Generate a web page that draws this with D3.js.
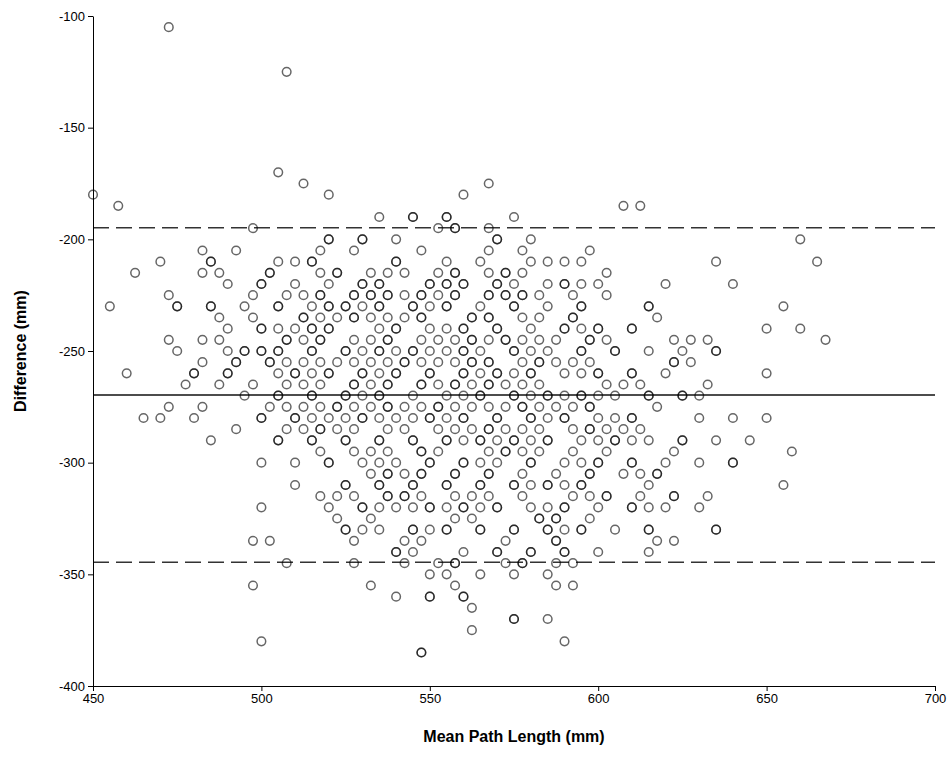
<!DOCTYPE html>
<html>
<head>
<meta charset="utf-8">
<script src="https://cdn.jsdelivr.net/npm/d3@7"></script>
<style>
  body { margin: 0; background: #fff; }
  text { font-family: Arial, "Liberation Sans", sans-serif; }
</style>
</head>
<body>
<svg id="chart" width="950" height="761"></svg>
<script>
// one row per difference level; repeated means are overlapping (darker) points
const rowDiff = [-105, -125, -170, -175, -180, -185, -190, -195, -200, -205, -210, -215, -220, -225,
  -230, -235, -240, -245, -250, -255, -260, -265, -270, -275, -280, -285, -290, -295, -300, -305,
  -310, -315, -320, -325, -330, -335, -340, -345, -350, -355, -360, -365, -370, -375, -380, -385];

const rowMeans = [
  [472.5],
  [507.5],
  [505],
  [512.5, 567.5],
  [450, 520, 560],
  [457.5, 607.5, 612.5],
  [535, 545, 545, 555, 555, 575],
  [497.5, 552.5, 557.5, 557.5, 567.5],
  [520, 520, 530, 530, 540, 570, 570, 580, 660],
  [482.5, 492.5, 517.5, 527.5, 547.5, 567.5, 577.5, 597.5],
  [470, 485, 485, 505, 510, 515, 515, 540, 540, 555, 565, 580, 585, 590, 595, 635, 665],
  [462.5, 482.5, 487.5, 502.5, 502.5, 517.5, 522.5, 522.5, 532.5, 537.5, 542.5, 552.5, 557.5, 557.5,
    567.5, 572.5, 572.5, 577.5, 602.5],
  [490, 500, 500, 510, 520, 530, 530, 535, 535, 550, 550, 555, 555, 560, 560, 570, 570, 575, 585,
    590, 590, 595, 600, 620, 640],
  [472.5, 497.5, 507.5, 512.5, 517.5, 517.5, 527.5, 527.5, 532.5, 532.5, 537.5, 537.5, 542.5, 547.5,
    547.5, 552.5, 557.5, 557.5, 567.5, 567.5, 572.5, 572.5, 577.5, 577.5, 582.5, 592.5, 602.5],
  [455, 475, 475, 485, 485, 495, 505, 505, 515, 520, 520, 525, 525, 530, 535, 535, 545, 545, 550,
    555, 555, 565, 575, 575, 585, 595, 595, 615, 615, 655],
  [487.5, 497.5, 512.5, 512.5, 517.5, 522.5, 527.5, 527.5, 532.5, 537.5, 542.5, 547.5, 547.5, 562.5,
    562.5, 567.5, 567.5, 577.5, 582.5, 592.5, 592.5, 617.5],
  [490, 500, 500, 505, 510, 515, 515, 520, 520, 535, 540, 540, 550, 555, 560, 560, 570, 570, 580,
    590, 590, 595, 600, 600, 610, 610, 650, 660],
  [472.5, 482.5, 487.5, 507.5, 507.5, 512.5, 517.5, 517.5, 527.5, 532.5, 537.5, 537.5, 547.5, 552.5,
    557.5, 562.5, 562.5, 567.5, 572.5, 572.5, 577.5, 582.5, 587.5, 597.5, 597.5, 602.5, 622.5, 627.5,
    632.5, 667.5],
  [475, 490, 495, 495, 500, 500, 505, 505, 515, 515, 525, 525, 530, 535, 535, 540, 545, 545, 550,
    555, 560, 560, 565, 575, 575, 580, 585, 595, 595, 605, 605, 615, 625, 635, 635],
  [482.5, 492.5, 492.5, 502.5, 502.5, 507.5, 512.5, 517.5, 522.5, 527.5, 532.5, 537.5, 542.5, 542.5,
    547.5, 552.5, 557.5, 562.5, 562.5, 567.5, 567.5, 577.5, 582.5, 582.5, 587.5, 592.5, 597.5, 622.5,
    622.5, 627.5],
  [460, 480, 480, 490, 490, 505, 510, 510, 515, 520, 520, 530, 530, 535, 540, 540, 550, 550, 560,
    560, 565, 570, 570, 575, 580, 580, 590, 595, 600, 600, 610, 610, 620, 650],
  [477.5, 487.5, 497.5, 507.5, 512.5, 517.5, 527.5, 527.5, 532.5, 537.5, 537.5, 547.5, 547.5, 552.5,
    557.5, 557.5, 562.5, 567.5, 567.5, 572.5, 577.5, 582.5, 602.5, 607.5, 612.5, 632.5],
  [495, 505, 505, 515, 515, 525, 525, 530, 535, 535, 545, 555, 560, 565, 565, 575, 575, 580, 585,
    585, 590, 595, 595, 600, 605, 615, 615, 625, 625, 630],
  [472.5, 482.5, 502.5, 507.5, 512.5, 517.5, 522.5, 522.5, 527.5, 532.5, 537.5, 537.5, 542.5, 547.5,
    552.5, 552.5, 557.5, 562.5, 567.5, 572.5, 577.5, 577.5, 582.5, 587.5, 592.5, 597.5, 597.5, 617.5],
  [465, 470, 480, 500, 500, 510, 510, 515, 520, 525, 530, 530, 535, 540, 545, 550, 550, 555, 560,
    560, 570, 570, 580, 580, 585, 590, 590, 600, 605, 610, 610, 630, 640, 650],
  [492.5, 507.5, 512.5, 517.5, 517.5, 522.5, 527.5, 537.5, 542.5, 552.5, 557.5, 562.5, 567.5, 567.5,
    572.5, 577.5, 582.5, 592.5, 597.5, 597.5, 602.5, 607.5, 612.5],
  [485, 505, 505, 515, 515, 525, 525, 535, 535, 545, 545, 555, 555, 560, 565, 565, 570, 575, 575,
    580, 585, 585, 595, 600, 605, 605, 610, 615, 625, 625, 635, 645],
  [517.5, 527.5, 532.5, 537.5, 547.5, 547.5, 552.5, 567.5, 572.5, 572.5, 577.5, 582.5, 592.5, 602.5,
    622.5, 657.5],
  [500, 510, 520, 520, 530, 535, 540, 550, 550, 560, 560, 565, 570, 580, 580, 590, 595, 600, 600,
    610, 610, 620, 630, 640, 640],
  [532.5, 537.5, 537.5, 542.5, 547.5, 547.5, 557.5, 557.5, 567.5, 567.5, 577.5, 587.5, 597.5, 597.5,
    607.5, 612.5, 617.5, 617.5],
  [510, 525, 525, 535, 535, 545, 545, 555, 555, 565, 565, 575, 575, 580, 585, 585, 590, 595, 595,
    615, 655],
  [517.5, 522.5, 527.5, 537.5, 537.5, 542.5, 542.5, 547.5, 557.5, 562.5, 567.5, 577.5, 592.5, 597.5,
    602.5, 602.5, 612.5, 622.5, 622.5, 632.5],
  [500, 520, 530, 530, 535, 540, 545, 550, 550, 555, 560, 560, 565, 570, 570, 580, 585, 590, 590,
    600, 610, 610, 615, 620, 630],
  [522.5, 532.5, 557.5, 562.5, 582.5, 582.5, 587.5, 587.5, 597.5],
  [525, 525, 530, 535, 545, 545, 550, 555, 555, 565, 565, 575, 575, 585, 585, 590, 595, 595, 605,
    615, 615, 635, 635],
  [497.5, 502.5, 527.5, 542.5, 547.5, 572.5, 587.5, 587.5, 617.5, 622.5],
  [540, 540, 545, 560, 570, 570, 580, 580, 590, 590, 600, 615],
  [507.5, 527.5, 542.5, 552.5, 557.5, 557.5, 572.5, 577.5, 577.5, 587.5, 592.5],
  [550, 555, 565, 575, 585],
  [497.5, 532.5, 557.5, 587.5, 592.5],
  [540, 550, 550, 560, 560],
  [562.5],
  [575, 575, 585],
  [562.5],
  [500, 590],
  [547.5, 547.5]
];

const meanDiff = -269.7;
const limitsOfAgreement = [-194.8, -344.6];
const xTicks = [450, 500, 550, 600, 650, 700];
const yTicks = [-400, -350, -300, -250, -200, -150, -100];

var svg = d3.select("#chart");

var x = d3.scaleLinear().domain([450, 700]).range([93, 935]);
var y = d3.scaleLinear().domain([-400, -100]).range([686, 16]);

// flatten rows into points
var points = [];
rowDiff.forEach(function (d, i) {
  rowMeans[i].forEach(function (m) {
    points.push({ mean: m, diff: d });
  });
});

// reference lines
svg.selectAll(".loa")
  .data(limitsOfAgreement)
  .enter()
  .append("line")
  .attr("class", "loa")
  .attr("x1", x(450)).attr("x2", x(700))
  .attr("y1", d => y(d)).attr("y2", d => y(d))
  .attr("stroke", "#333")
  .attr("stroke-width", 1.6)
  .attr("stroke-dasharray", "16,7");

svg.append("line")
  .attr("x1", x(450)).attr("x2", x(700))
  .attr("y1", y(meanDiff)).attr("y2", y(meanDiff))
  .attr("stroke", "#111")
  .attr("stroke-width", 1.6);

// points
svg.append("g")
  .selectAll("circle")
  .data(points)
  .enter()
  .append("circle")
  .attr("cx", d => x(d.mean))
  .attr("cy", d => y(d.diff))
  .attr("r", 4.3)
  .attr("fill", "none")
  .attr("stroke", "#000")
  .attr("stroke-opacity", 0.6)
  .attr("stroke-width", 1.5);

// axes
var yAxis = svg.append("g")
  .attr("transform", `translate(${x(450)},0)`)
  .call(d3.axisLeft(y).tickValues(yTicks).tickSize(5).tickSizeOuter(0).tickFormat(d => String(d)));

var xAxis = svg.append("g")
  .attr("transform", `translate(0,${y(-400)})`)
  .call(d3.axisBottom(x).tickValues(xTicks).tickSize(5).tickSizeOuter(0).tickFormat(d => String(d)));

[yAxis, xAxis].forEach(function (a) {
  a.selectAll("path, line").attr("stroke", "#000");
  a.selectAll("text").attr("font-size", 13).attr("fill", "#000")
    .attr("font-family", "Arial, 'Liberation Sans', sans-serif");
});

// axis titles
svg.append("text")
  .attr("transform", `translate(26,${(y(-100) + y(-400)) / 2}) rotate(-90)`)
  .attr("text-anchor", "middle")
  .attr("font-size", 16)
  .attr("font-weight", "bold")
  .text("Difference (mm)");

svg.append("text")
  .attr("x", (x(450) + x(700)) / 2)
  .attr("y", 742)
  .attr("text-anchor", "middle")
  .attr("font-size", 16)
  .attr("font-weight", "bold")
  .text("Mean Path Length (mm)");
</script>
</body>
</html>
